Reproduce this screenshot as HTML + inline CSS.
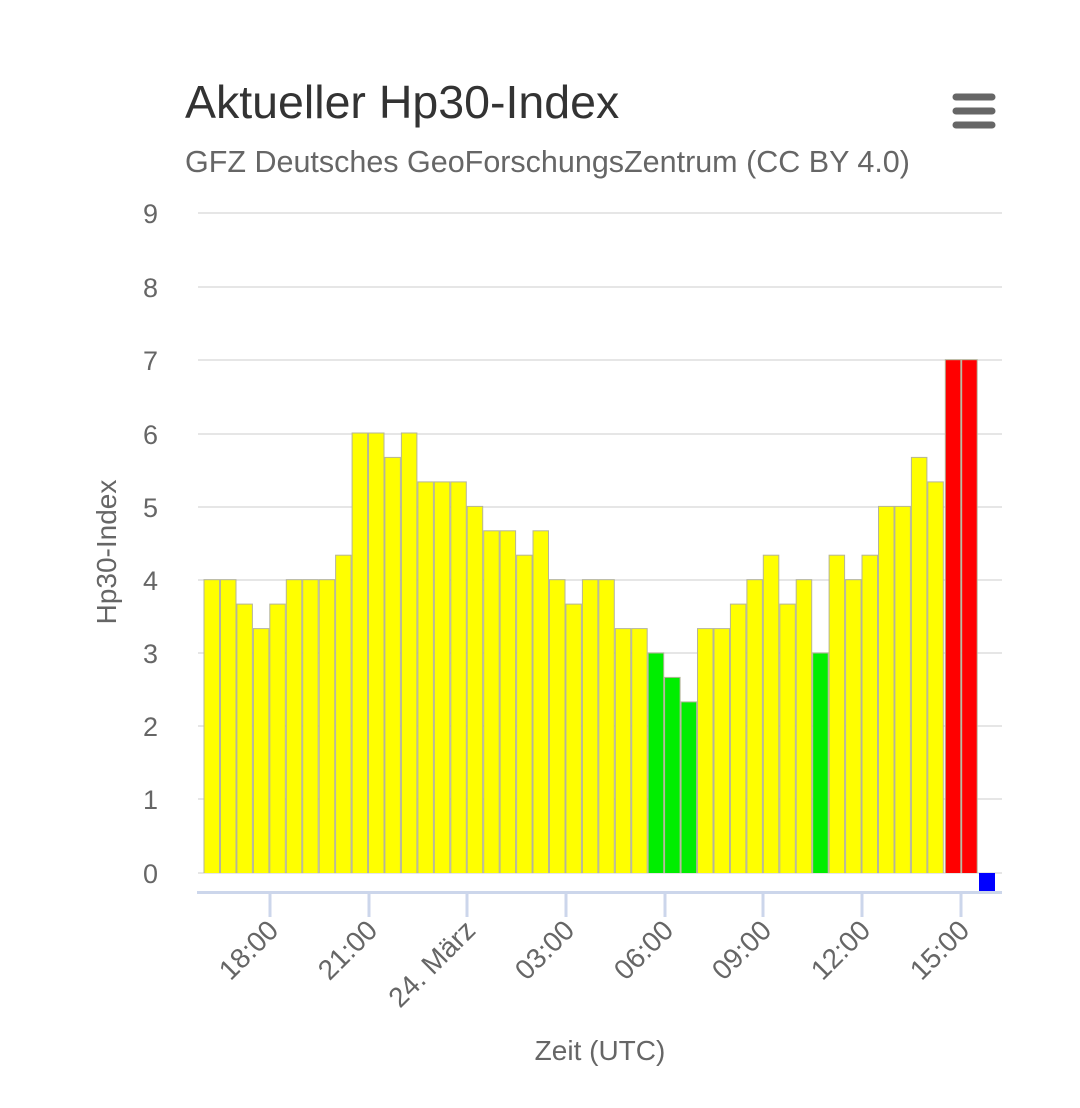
<!DOCTYPE html>
<html><head><meta charset="utf-8"><style>
html,body{margin:0;padding:0;background:#fff;}
svg text{font-family:"Liberation Sans",sans-serif;}
</style></head><body>
<svg width="1080" height="1103" viewBox="0 0 1080 1103" xmlns="http://www.w3.org/2000/svg">
<defs><clipPath id="c"><rect x="190" y="200" width="820" height="673"/></clipPath></defs>
<rect width="1080" height="1103" fill="#fff"/>
<text x="185" y="118" font-size="46.5" fill="#333">Aktueller Hp30-Index</text>
<text x="185" y="172" font-size="30.5" fill="#666">GFZ Deutsches GeoForschungsZentrum (CC BY 4.0)</text>
<g stroke="#666" stroke-width="7" stroke-linecap="round">
<line x1="956" y1="97" x2="992" y2="97"/><line x1="956" y1="111" x2="992" y2="111"/><line x1="956" y1="125" x2="992" y2="125"/>
</g>
<g stroke="#e6e6e6" stroke-width="2">
<line x1="198" y1="213" x2="1002" y2="213"/><line x1="198" y1="287" x2="1002" y2="287"/>
<line x1="198" y1="360" x2="1002" y2="360"/><line x1="198" y1="434" x2="1002" y2="434"/>
<line x1="198" y1="507" x2="1002" y2="507"/><line x1="198" y1="580" x2="1002" y2="580"/>
<line x1="198" y1="653" x2="1002" y2="653"/><line x1="198" y1="726" x2="1002" y2="726"/>
<line x1="198" y1="799" x2="1002" y2="799"/><line x1="198" y1="873" x2="1002" y2="873"/>
</g>
<g font-size="27" fill="#666" text-anchor="end">
<text x="158" y="223">9</text><text x="158" y="297">8</text><text x="158" y="370">7</text>
<text x="158" y="444">6</text><text x="158" y="517">5</text><text x="158" y="590">4</text>
<text x="158" y="663">3</text><text x="158" y="736">2</text><text x="158" y="809">1</text>
<text x="158" y="883">0</text>
</g>
<text transform="translate(116,552) rotate(-90)" font-size="28" fill="#666" text-anchor="middle">Hp30-Index</text>
<g clip-path="url(#c)" stroke="#b5b59a" stroke-width="1">
<g fill="#ffff00">
<rect x="204.0" y="579.7" width="15.5" height="300"/>
<rect x="220.5" y="579.7" width="15.5" height="300"/>
<rect x="236.9" y="604.1" width="15.5" height="300"/>
<rect x="253.4" y="628.6" width="15.5" height="300"/>
<rect x="269.8" y="604.1" width="15.5" height="300"/>
<rect x="286.3" y="579.7" width="15.5" height="300"/>
<rect x="302.7" y="579.7" width="15.5" height="300"/>
<rect x="319.2" y="579.7" width="15.5" height="300"/>
<rect x="335.6" y="555.2" width="15.5" height="330"/>
<rect x="352.1" y="433.0" width="15.5" height="450"/>
<rect x="368.5" y="433.0" width="15.5" height="450"/>
<rect x="384.9" y="457.4" width="15.5" height="450"/>
<rect x="401.4" y="433.0" width="15.5" height="450"/>
<rect x="417.9" y="481.9" width="15.5" height="400"/>
<rect x="434.3" y="481.9" width="15.5" height="400"/>
<rect x="450.8" y="481.9" width="15.5" height="400"/>
<rect x="467.2" y="506.4" width="15.5" height="400"/>
<rect x="483.7" y="530.8" width="15.5" height="400"/>
<rect x="500.1" y="530.8" width="15.5" height="400"/>
<rect x="516.6" y="555.2" width="15.5" height="400"/>
<rect x="533.0" y="530.8" width="15.5" height="400"/>
<rect x="549.5" y="579.7" width="15.5" height="300"/>
<rect x="565.9" y="604.1" width="15.5" height="300"/>
<rect x="582.4" y="579.7" width="15.5" height="300"/>
<rect x="598.8" y="579.7" width="15.5" height="300"/>
<rect x="615.3" y="628.6" width="15.5" height="300"/>
<rect x="631.7" y="628.6" width="15.5" height="300"/>
<rect x="697.5" y="628.6" width="15.5" height="300"/>
<rect x="714.0" y="628.6" width="15.5" height="300"/>
<rect x="730.4" y="604.1" width="15.5" height="300"/>
<rect x="746.9" y="579.7" width="15.5" height="300"/>
<rect x="763.3" y="555.2" width="15.5" height="330"/>
<rect x="779.8" y="604.1" width="15.5" height="300"/>
<rect x="796.2" y="579.7" width="15.5" height="300"/>
<rect x="829.1" y="555.2" width="15.5" height="330"/>
<rect x="845.6" y="579.7" width="15.5" height="300"/>
<rect x="862.0" y="555.2" width="15.5" height="330"/>
<rect x="878.5" y="506.4" width="15.5" height="400"/>
<rect x="894.9" y="506.4" width="15.5" height="400"/>
<rect x="911.4" y="457.4" width="15.5" height="450"/>
<rect x="927.8" y="481.9" width="15.5" height="400"/>
</g>
<g fill="#00ee00">
<rect x="648.2" y="653.0" width="15.5" height="300"/>
<rect x="664.6" y="677.4" width="15.5" height="300"/>
<rect x="681.1" y="701.9" width="15.5" height="300"/>
<rect x="812.7" y="653.0" width="15.5" height="300"/>
</g>
<g fill="#ff0000">
<rect x="945.3" y="359.7" width="15.5" height="520"/>
<rect x="961.7" y="359.7" width="15.5" height="520"/>
</g>
</g>
<rect x="979" y="873" width="16" height="19" fill="#0000ff"/>
<line x1="197" y1="892.5" x2="1002" y2="892.5" stroke="#ccd6eb" stroke-width="3"/>
<g stroke="#ccd6eb" stroke-width="3">
<line x1="270" y1="892" x2="270" y2="917"/><line x1="369" y1="892" x2="369" y2="917"/>
<line x1="467" y1="892" x2="467" y2="917"/><line x1="566" y1="892" x2="566" y2="917"/>
<line x1="665" y1="892" x2="665" y2="917"/><line x1="763" y1="892" x2="763" y2="917"/>
<line x1="862" y1="892" x2="862" y2="917"/><line x1="961" y1="892" x2="961" y2="917"/>
</g>
<g font-size="28" fill="#666" text-anchor="end">
<text transform="translate(280,932) rotate(-45)">18:00</text>
<text transform="translate(379,932) rotate(-45)">21:00</text>
<text transform="translate(477,932) rotate(-45)">24. März</text>
<text transform="translate(576,932) rotate(-45)">03:00</text>
<text transform="translate(675,932) rotate(-45)">06:00</text>
<text transform="translate(773,932) rotate(-45)">09:00</text>
<text transform="translate(872,932) rotate(-45)">12:00</text>
<text transform="translate(971,932) rotate(-45)">15:00</text>
</g>
<text x="600" y="1060" font-size="28" fill="#666" text-anchor="middle">Zeit (UTC)</text>
</svg>
</body></html>
